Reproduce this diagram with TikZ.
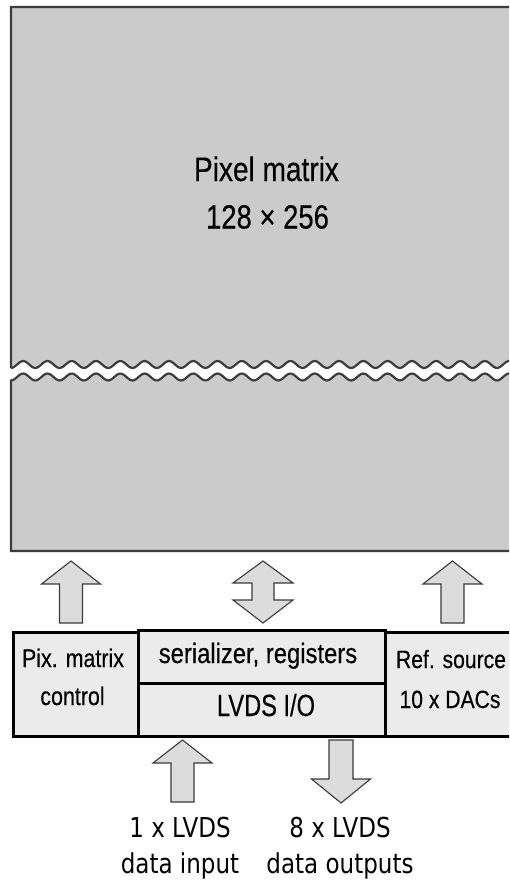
\documentclass[tikz,border=0pt]{standalone}
\usepackage{fontspec}
\usepackage{graphicx}
\setmainfont{Liberation Sans}[FakeBold=0.4]
\newfontfamily\dejavu{DejaVu Sans}

\definecolor{matrixgray}{HTML}{CBCBCB}
\definecolor{matrixline}{HTML}{3C3C3C}
\definecolor{blockfill}{HTML}{EBEBEB}
\definecolor{arrowfill}{HTML}{DCDCDC}
\definecolor{arrowline}{HTML}{3A3A3A}

% horizontally condensed text
\newcommand{\hs}[2]{\scalebox{#1}[1]{#2}}

\tikzset{
  lbl/.style={inner sep=0pt, anchor=base, text=black},
  blk/.style={draw=black, line width=2.8pt, fill=blockfill, inner sep=0pt, anchor=north west},
  matbox/.style={draw=matrixline, line width=2.2pt, fill=matrixgray, line join=miter},
  barrow/.style={draw=arrowline, line width=1.1pt, fill=arrowfill, line join=miter},
  uparrow/.pic={\filldraw[barrow] (0,0) -- (-29.5,23) -- (-11.5,23) -- (-11.5,62) -- (11.5,62) -- (11.5,23) -- (29.5,23) -- cycle;},
  downarrow/.pic={\filldraw[barrow] (0,0) -- (-29.5,-24) -- (-12,-24) -- (-12,-63) -- (12,-63) -- (12,-24) -- (29.5,-24) -- cycle;},
  updownarrow/.pic={\filldraw[barrow] (0,0) -- (-30,22) -- (-11,22) -- (-11,39) -- (-30,39) -- (0,62) -- (30,39) -- (11,39) -- (11,22) -- (30,22) -- cycle;},
}

% wave phase: 360 degrees per 24.3 units
\def\wk{14.8148}

\begin{document}
\begin{tikzpicture}[x=1pt, y=-1pt]
  \useasboundingbox (0,0) rectangle (509,883);
  \clip (0,0) rectangle (509,883);

  % pixel matrix, upper part ending in a wavy break
  \filldraw[matbox] (11,368) -- (11,7) -- (519,7) -- (519,{364.5+3.5*cos((519-11)*\wk)})
    -- plot[domain=519:11, samples=240] (\x,{364.5+3.5*cos((\x-11)*\wk)});
  % pixel matrix, lower part starting at the wavy break
  \filldraw[matbox] plot[domain=11:519, samples=240] (\x,{377+3.5*cos((\x-11)*\wk)})
    -- (519,551) -- (11,551) -- cycle;

  \node[lbl, font=\fontsize{34}{40}\selectfont] (pmtitle) at (266.5,181) {\hs{0.825}{Pixel matrix}};
  \node[lbl, font=\fontsize{33.5}{40}\selectfont] (pmsize) at (267.5,228.5) {\hs{0.82}{128 × 256}};

  % periphery blocks
  \node[blk, minimum width=125, minimum height=104] (ctrl) at (12,631) {};
  \node[blk, minimum width=247, minimum height=53] (serreg) at (137,629) {};
  \node[blk, minimum width=247, minimum height=53] (lvds) at (137,682) {};
  \node[blk, minimum width=135, minimum height=104] (refsrc) at (384,631) {};

  \node[lbl, font=\fontsize{25.5}{30}\selectfont] (ctrlA) at (73,667) {\hs{0.84}{Pix. matrix}};
  \node[lbl, font=\fontsize{25.5}{30}\selectfont] (ctrlB) at (72.5,705) {\hs{0.84}{control}};
  \node[lbl, font=\fontsize{28}{32}\selectfont] (serregT) at (258,663) {\hs{0.85}{serializer, registers}};
  \node[lbl, font=\fontsize{30.7}{34}\selectfont] (lvdsT) at (266,716) {\hs{0.77}{LVDS I/O}};
  \node[lbl, font=\fontsize{25}{30}\selectfont] (refA) at (451,668) {\hs{0.845}{Ref. source}};
  \node[lbl, font=\fontsize{25}{30}\selectfont] (refB) at (450,708) {\hs{0.845}{10 x DACs}};

  % block arrows between matrix and periphery
  \pic at (71,561) {uparrow};
  \pic at (263,561) {updownarrow};
  \pic at (452.5,561) {uparrow};

  % external LVDS links
  \pic at (182.5,740) {uparrow};
  \pic at (341,803) {downarrow};

  \node[lbl, font=\dejavu\fontsize{27.4}{32}\selectfont] (inA) at (180,837) {\hs{0.84}{1 x LVDS}};
  \node[lbl, font=\dejavu\fontsize{27.4}{32}\selectfont] (inB) at (180,873) {\hs{0.84}{data input}};
  \node[lbl, font=\dejavu\fontsize{27.4}{32}\selectfont] (outA) at (340,837) {\hs{0.84}{8 x LVDS}};
  \node[lbl, font=\dejavu\fontsize{27.4}{32}\selectfont] (outB) at (340,873) {\hs{0.84}{data outputs}};
\end{tikzpicture}
\end{document}
